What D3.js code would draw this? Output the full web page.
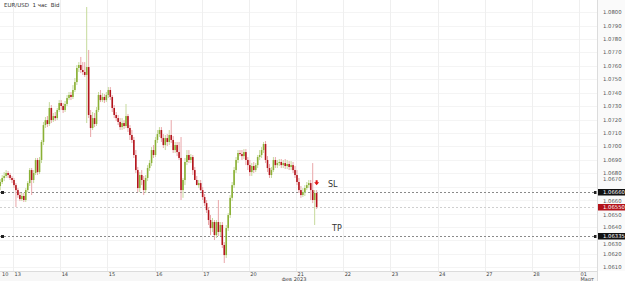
<!DOCTYPE html>
<html>
<head>
<meta charset="utf-8">
<script src="https://cdn.jsdelivr.net/npm/d3@7"></script>
<style>
  body { margin: 0; background: #fff; }
  svg { display: block; font-family: "DejaVu Sans", sans-serif; }
</style>
</head>
<body>
<div id="chart"></div>
<script>
// EUR/USD, 1 hour candles, Feb 10 17:00 .. Feb 21 10:00 (weekend removed)
var firstOpen = 1.06705;
var closes = [1.06735,1.06765,1.06780,1.06802,1.06787,1.06765,1.06750,1.06712,1.06675,1.06638,
  1.06608,1.06631,1.06601,1.06675,1.06727,1.06824,1.06750,1.06802,1.06899,1.06809,
  1.06899,1.07033,1.07159,1.07196,1.07167,1.07286,1.07196,1.07226,1.07211,1.07271,
  1.07323,1.07301,1.07271,1.07316,1.07360,1.07383,1.07368,1.07420,1.07479,1.07584,
  1.07606,1.07569,1.07554,1.07532,1.07591,1.07234,1.07137,1.07211,1.07167,1.07271,
  1.07383,1.07345,1.07368,1.07345,1.07383,1.07420,1.07368,1.07286,1.07234,1.07211,
  1.07182,1.07144,1.07174,1.07152,1.07226,1.07137,1.07085,1.07048,1.06936,1.06824,
  1.06690,1.06787,1.06750,1.06675,1.06765,1.06839,1.06876,1.06973,1.06936,1.07048,
  1.07092,1.07122,1.07062,1.07010,1.07062,1.07033,1.07085,1.07048,1.06973,1.07010,
  1.06958,1.06914,1.06675,1.06750,1.06884,1.06936,1.06899,1.06921,1.06824,1.06750,
  1.06712,1.06727,1.06675,1.06623,1.06578,1.06526,1.06452,1.06392,1.06437,1.06340,
  1.06437,1.06363,1.06415,1.06266,1.06191,1.06392,1.06489,1.06617,1.06712,1.06824,
  1.06899,1.06951,1.06943,1.06928,1.06958,1.06899,1.06861,1.06809,1.06854,1.06824,
  1.06861,1.06921,1.06936,1.06973,1.07018,1.06899,1.06839,1.06787,1.06824,1.06899,
  1.06861,1.06876,1.06884,1.06861,1.06876,1.06854,1.06869,1.06847,1.06861,1.06824,
  1.06787,1.06735,1.06675,1.06638,1.06660,1.06690,1.06712,1.06727,1.06675,1.06601,
  1.06653,1.06549];
var highs = [1.06757,1.06787,1.06809,1.06824,1.06817,1.06802,1.06780,1.06765,1.06727,1.06690,
  1.06660,1.06653,1.06653,1.06690,1.06742,1.06839,1.06839,1.06824,1.06914,1.06914,
  1.06921,1.07048,1.07182,1.07219,1.07226,1.07330,1.07308,1.07249,1.07256,1.07286,
  1.07345,1.07345,1.07323,1.07338,1.07383,1.07405,1.07405,1.07457,1.07509,1.07606,
  1.07628,1.07666,1.07628,1.07628,1.08038,1.07718,1.07271,1.07256,1.07249,1.07293,
  1.07405,1.07420,1.07398,1.07390,1.07405,1.07442,1.07442,1.07383,1.07308,1.07256,
  1.07234,1.07211,1.07211,1.07196,1.07316,1.07241,1.07159,1.07122,1.07070,1.06973,
  1.06847,1.06809,1.06824,1.06780,1.06787,1.06861,1.06899,1.06995,1.07010,1.07070,
  1.07122,1.07144,1.07144,1.07092,1.07085,1.07092,1.07122,1.07196,1.07077,1.07033,
  1.07033,1.07033,1.07070,1.06765,1.06914,1.06973,1.06973,1.06943,1.06936,1.06847,
  1.06780,1.06750,1.06750,1.06698,1.06645,1.06601,1.06549,1.06489,1.06467,1.06452,
  1.06452,1.06601,1.06437,1.06437,1.06288,1.06415,1.06504,1.06638,1.06735,1.06847,
  1.06921,1.06973,1.06973,1.06973,1.06980,1.06980,1.06921,1.06899,1.06876,1.06884,
  1.06876,1.06936,1.06973,1.06995,1.07033,1.07040,1.06928,1.06869,1.06847,1.06921,
  1.06921,1.06899,1.06906,1.06906,1.06899,1.06906,1.06899,1.06891,1.06891,1.06884,
  1.06854,1.06824,1.06765,1.06705,1.06690,1.06712,1.06735,1.06750,1.06750,1.06876,
  1.06675,1.06675];
var lows = [1.06675,1.06720,1.06742,1.06765,1.06765,1.06750,1.06727,1.06690,1.06549,1.06617,
  1.06593,1.06593,1.06586,1.06586,1.06660,1.06705,1.06638,1.06727,1.06787,1.06787,
  1.06794,1.06876,1.07010,1.07137,1.07144,1.07152,1.07174,1.07182,1.07189,1.07196,
  1.07256,1.07271,1.07249,1.07256,1.07301,1.07345,1.07345,1.07353,1.07405,1.07457,
  1.07554,1.07546,1.07532,1.07517,1.07174,1.07211,1.07070,1.07122,1.07144,1.07152,
  1.07256,1.07330,1.07330,1.07323,1.07330,1.07360,1.07345,1.07256,1.07211,1.07189,
  1.07159,1.07122,1.07122,1.07129,1.07137,1.07107,1.07048,1.07025,1.06914,1.06802,
  1.06660,1.06660,1.06712,1.06638,1.06653,1.06742,1.06817,1.06854,1.06914,1.06921,
  1.07025,1.07070,1.07033,1.06988,1.06973,1.07003,1.07010,1.07025,1.06951,1.06951,
  1.06928,1.06899,1.06601,1.06617,1.06712,1.06861,1.06876,1.06876,1.06787,1.06765,
  1.06727,1.06690,1.06668,1.06601,1.06556,1.06504,1.06415,1.06340,1.06363,1.06303,
  1.06318,1.06333,1.06333,1.06243,1.06132,1.06169,1.06370,1.06467,1.06593,1.06690,
  1.06802,1.06876,1.06928,1.06899,1.06906,1.06861,1.06824,1.06780,1.06780,1.06802,
  1.06809,1.06839,1.06899,1.06914,1.06951,1.06876,1.06809,1.06765,1.06765,1.06809,
  1.06839,1.06839,1.06854,1.06839,1.06839,1.06832,1.06832,1.06824,1.06824,1.06802,
  1.06765,1.06712,1.06653,1.06617,1.06623,1.06631,1.06675,1.06690,1.06601,1.06578,
  1.06415,1.06534];

// date axis: index of each day's first hour
var dayLabels = ["10","13","14","15","16","17","20","21","22","23","24","27","28","01"];
var dayStart = [-17,7,31,55,79,103,127,151,175,199,223,247,271,295];
var monthLabels = ["фев 2023","Март"];
var monthPos = [143,295];

var priceTicks = d3.range(1.0610, 1.08005, 0.001);
var levels = [
  {name:"SL", price:1.06660, text:"1.06660", box:"#111", line:"#8a8a8a"},
  {name:"", price:1.06550, text:"1.06550", box:"#b3121a", line:"#cfcfcf"},
  {name:"TP", price:1.06335, text:"1.06335", box:"#111", line:"#8a8a8a"}
];

var W = 625, H = 281, plotR = 597, axisTop = 271;
var svg = d3.select("#chart").append("svg").attr("width", W).attr("height", H);

var x = d3.scaleLinear().domain([7, 295]).range([13, 579]);
var y = d3.scaleLinear().domain([1.0800, 1.0610]).range([12.1, 267.3]);

var candles = closes.map(function(c, i) {
  return {i:i, o: i == 0 ? firstOpen : closes[i-1], c:c, h:highs[i], l:lows[i]};
});

// grid
svg.append("g").selectAll("line").data(priceTicks).join("line")
  .attr("x1", 0).attr("x2", plotR)
  .attr("y1", d => Math.round(y(d)) + 0.5).attr("y2", d => Math.round(y(d)) + 0.5)
  .attr("stroke", "#f4f4f4");
svg.append("g").selectAll("line").data(dayStart.filter(d => x(d) > 0)).join("line")
  .attr("x1", d => Math.round(x(d)) + 0.5).attr("x2", d => Math.round(x(d)) + 0.5)
  .attr("y1", 0).attr("y2", axisTop)
  .attr("stroke", "#efefef");

// title
svg.append("text").attr("x", 4).attr("y", 7).attr("font-size", 5.5).attr("fill", "#333")
  .attr("xml:space", "preserve").text("EUR/USD  1 час  Bid");

// level lines
svg.append("g").selectAll("line").data(levels).join("line")
  .attr("x1", 0).attr("x2", plotR - 2)
  .attr("y1", d => Math.round(y(d.price)) + 0.5).attr("y2", d => Math.round(y(d.price)) + 0.5)
  .attr("stroke", d => d.line).attr("stroke-dasharray", "2,2");
svg.append("g").selectAll("rect").data(levels.filter(d => d.name)).join("rect")
  .attr("x", 1).attr("y", d => Math.round(y(d.price)) - 1).attr("width", 3).attr("height", 3)
  .attr("fill", "#222");

// candles
var bull = "#8ab035", bear = "#b3141c";
var g = svg.append("g");
g.selectAll("line").data(candles).join("line")
  .attr("x1", d => x(d.i + 0.5)).attr("x2", d => x(d.i + 0.5))
  .attr("y1", d => y(d.h)).attr("y2", d => y(d.l))
  .attr("stroke", d => d.c >= d.o ? "#c6da9c" : "#e9a6a9").attr("stroke-width", 1);
g.selectAll("rect").data(candles).join("rect")
  .attr("x", d => x(d.i + 0.5) - 0.8).attr("width", 1.6)
  .attr("y", d => y(Math.max(d.o, d.c)))
  .attr("height", d => Math.max(1, Math.abs(y(d.o) - y(d.c))))
  .attr("fill", d => d.c >= d.o ? bull : bear);

// sell arrow over last candle
var last = candles[candles.length - 1];
var ax = x(last.i + 0.5), ay = y(1.06725);
svg.append("path")
  .attr("d", "M" + (ax - 1) + "," + (ay - 3) + "h2v2h1.5l-2.5,3l-2.5,-3h1.5z")
  .attr("fill", "#e01515");

// SL / TP labels
svg.append("g").selectAll("text").data(levels.filter(d => d.name)).join("text")
  .attr("x", d => d.name == "SL" ? 328 : 332).attr("y", d => y(d.price) - 5)
  .attr("font-size", 8).attr("fill", "#333").text(d => d.name);

// right price axis
svg.append("rect").attr("x", plotR).attr("y", 0).attr("width", W - plotR).attr("height", axisTop)
  .attr("fill", "#fafafa");
svg.append("line").attr("x1", plotR + 0.5).attr("x2", plotR + 0.5).attr("y1", 0).attr("y2", H)
  .attr("stroke", "#dcdcdc");
var boxYs = levels.map(d => y(d.price));
// tick labels step aside from the level boxes
svg.append("g").selectAll("text").data(priceTicks).join("text")
  .attr("x", 603).attr("y", function(d) {
    var ty = y(d);
    var above = boxYs.filter(b => ty >= b && ty - b < 8.5);
    var below = boxYs.filter(b => ty < b && b - ty < 6.5);
    if (above.length) ty = d3.max(above) + 8.5;
    else if (below.length) ty = d3.min(below) - 13;
    return ty + 2;
  })
  .attr("font-size", 5.3).attr("fill", "#555").text(d => d3.format(".4f")(d));
var lab = svg.append("g").selectAll("g").data(levels).join("g")
  .attr("transform", d => "translate(" + (plotR + 1) + "," + Math.round(y(d.price)) + ")");
lab.append("rect").attr("x", 0).attr("y", -3).attr("width", W - plotR).attr("height", 6.5)
  .attr("fill", d => d.box);
lab.append("text").attr("x", 5).attr("y", 2).attr("font-size", 5.3).attr("fill", "#fff")
  .text(d => d.text);
svg.append("g").selectAll("path").data(levels.filter(d => d.name)).join("path")
  .attr("d", d => "M" + (plotR - 3) + "," + (Math.round(y(d.price)) - 1) + "h2.5v3h-2.5z")
  .attr("fill", "#222");

// bottom time axis
svg.append("rect").attr("x", 0).attr("y", axisTop).attr("width", plotR).attr("height", H - axisTop)
  .attr("fill", "#f7f7f7");
svg.append("line").attr("x1", 0).attr("x2", plotR).attr("y1", axisTop + 0.5).attr("y2", axisTop + 0.5)
  .attr("stroke", "#dcdcdc");
svg.append("g").selectAll("text").data(dayLabels).join("text")
  .attr("x", (d, i) => Math.max(2, x(dayStart[i]) + 1.5)).attr("y", 276)
  .attr("font-size", 5).attr("fill", "#444").text(d => d);
svg.append("g").selectAll("text").data(monthLabels).join("text")
  .attr("x", (d, i) => x(monthPos[i]) + 1.5).attr("y", 281)
  .attr("font-size", 5).attr("fill", "#444").text(d => d);
</script>
</body>
</html>
